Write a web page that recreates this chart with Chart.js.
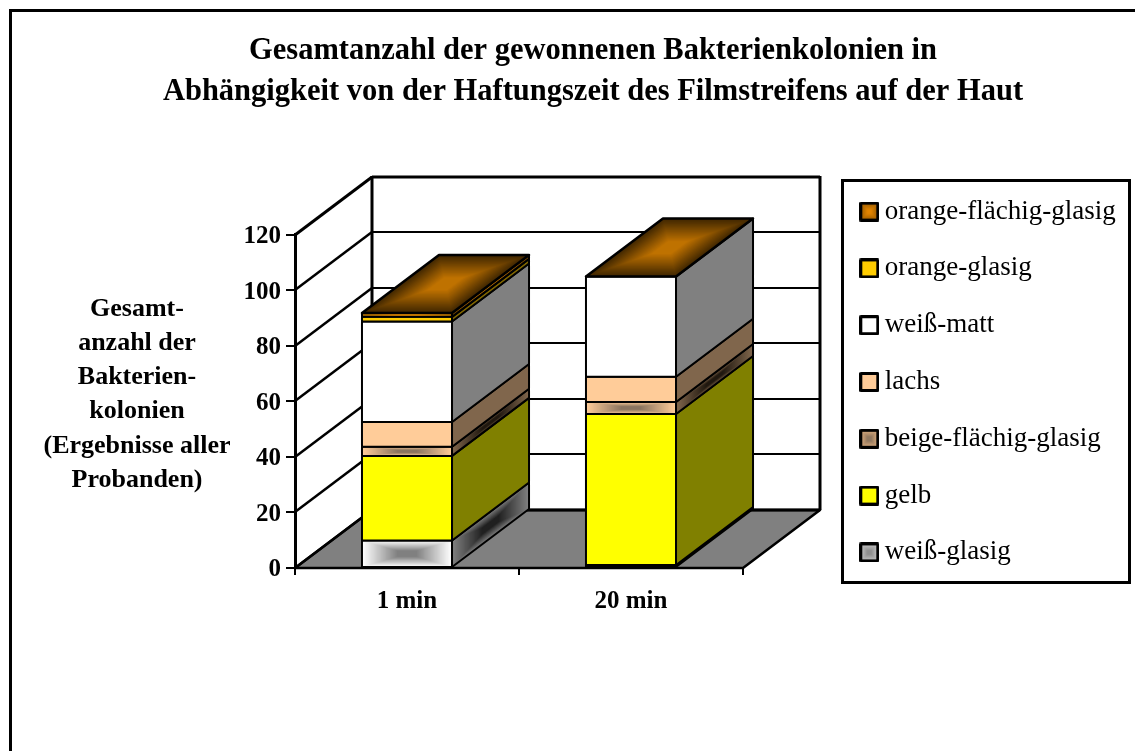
<!DOCTYPE html>
<html><head><meta charset="utf-8">
<script src="https://cdn.jsdelivr.net/npm/chart.js@4"></script>
<style>html,body{margin:0;padding:0;background:#fff;overflow:hidden}canvas{display:block}</style>
</head><body><canvas id="c" width="1135" height="751"></canvas>
<script>
const categories = ['1 min', '20 min'];
const titleLines = ['Gesamtanzahl der gewonnenen Bakterienkolonien in', 'Abhängigkeit von der Haftungszeit des Filmstreifens auf der Haut'];
const axisTitleLines = ['Gesamt-', 'anzahl der', 'Bakterien-', 'kolonien', '(Ergebnisse aller', 'Probanden)'];
const seriesNames = ['weiß-glasig', 'gelb', 'beige-flächig-glasig', 'lachs', 'weiß-matt', 'orange-glasig', 'orange-flächig-glasig'];
const weissGlasig = [9.9, 1.1];
const gelb = [30.5, 54.4];
const beigeFlaechig = [3.3, 4.3];
const lachs = [8.9, 9.1];
const weissMatt = [36.2, 36.1];
const orangeGlasig = [1.7, 0];
const orangeFlaechig = [1.4, 0];
const seriesValues = [weissGlasig, gelb, beigeFlaechig, lachs, weissMatt, orangeGlasig, orangeFlaechig];
// face colours: [edge, centre]; a single colour is flat
const frontColors = [['#FFFFFF', '#808080'], ['#FFFF00'], ['#FFCC99', '#8A7460'], ['#FFCC99'], ['#FFFFFF'], ['#FFCC00'], ['#C07800', '#FF9900']];
const sideColors = [['#808080', '#202020'], ['#808000'], ['#80664C', '#201810'], ['#80664C'], ['#808080'], ['#806600'], ['#804C00', '#BF7200']];
const topColors = ['#3F2600', '#BF7200'];
const legendSwatch = [['#C8C8C8', '#909090'], ['#FFFF00'], ['#E0B080', '#907860'], ['#FFCC99'], ['#FFFFFF'], ['#FFCC00'], ['#9A5C00', '#E08400']];

const DX = 77, DY = 58;
const serif = '"Liberation Serif","Times New Roman",serif';

function lerp(a, b, t) {
  const p = s => [1, 3, 5].map(i => parseInt(s.substr(i, 2), 16));
  const A = p(a), B = p(b);
  return 'rgb(' + A.map((v, i) => Math.round(v + (B[i] - v) * t)).join(',') + ')';
}
function path(ctx, pts) {
  ctx.beginPath();
  pts.forEach((q, i) => i ? ctx.lineTo(q[0], q[1]) : ctx.moveTo(q[0], q[1]));
  ctx.closePath();
}
function face(ctx, pts, cols, lw) {
  if (cols.length === 1) {
    path(ctx, pts); ctx.fillStyle = cols[0]; ctx.fill();
  } else {
    const cx = pts.reduce((s, q) => s + q[0], 0) / 4, cy = pts.reduce((s, q) => s + q[1], 0) / 4;
    const N = 30, stop = 0.22;
    for (let i = 0; i <= N; i++) {
      const t = i / N, k = 1 - t * (1 - stop);
      path(ctx, pts.map(q => [cx + (q[0] - cx) * k, cy + (q[1] - cy) * k]));
      ctx.fillStyle = lerp(cols[0], cols[1], t);
      ctx.fill();
    }
  }
  path(ctx, pts);
  ctx.strokeStyle = '#000'; ctx.lineWidth = lw; ctx.lineJoin = 'round'; ctx.stroke();
}
function line(ctx, x1, y1, x2, y2, w) {
  ctx.beginPath(); ctx.moveTo(x1, y1); ctx.lineTo(x2, y2);
  ctx.strokeStyle = '#000'; ctx.lineWidth = w; ctx.stroke();
}
function swatch(cols) {
  const c = document.createElement('canvas'); c.width = 20; c.height = 20;
  face(c.getContext('2d'), [[1.5, 1.5], [18.5, 1.5], [18.5, 18.5], [1.5, 18.5]], cols, 3);
  return c;
}

const scene3d = {
  id: 'scene3d',
  beforeLayout(chart) {
    const l = chart.legend;
    if (!l._fixedFit) {
      const f = l.fit;
      l.fit = function () { f.call(this); this.width = 392; };
      l._fixedFit = true;
    }
  },
  afterLayout(chart) {
    const l = chart.legend;
    l.left = 837.5; l.right = 1130; l.top = 152; l.bottom = 612;
    chart.titleBlock.left = 51;
  },
  beforeDraw(chart) {
    const ctx = chart.ctx;
    ctx.save();
    ctx.fillStyle = '#fff'; ctx.fillRect(0, 0, chart.width, chart.height);
    ctx.strokeStyle = '#000'; ctx.lineWidth = 3;
    ctx.strokeRect(10.5, 10.5, chart.width + 40, chart.height + 40);
    // legend frame
    ctx.strokeRect(842.5, 180.5, 287, 402);
    ctx.restore();
  },
  beforeDatasetsDraw(chart) {
    const ctx = chart.ctx, a = chart.chartArea, y = chart.scales.y;
    ctx.save();
    // floor
    face(ctx, [[a.left, a.bottom], [a.left + DX, a.bottom - DY], [a.right + DX, a.bottom - DY], [a.right, a.bottom]], ['#808080'], 2.5);
    // grid on side and back wall
    y.ticks.forEach(t => {
      const p = Math.round(y.getPixelForValue(t.value));
      line(ctx, a.left, p, a.left + DX, p - DY, t.value === y.max ? 3 : 2.5);
      line(ctx, a.left + DX, p - DY, a.right + DX, p - DY, t.value === y.max || t.value === 0 ? 3 : 2);
    });
    line(ctx, a.left + DX, a.top - DY - 1, a.left + DX, a.bottom - DY, 3);
    line(ctx, a.right + DX, a.top - DY - 1, a.right + DX, a.bottom - DY, 3);
    // axis title
    ctx.fillStyle = '#000'; ctx.font = 'bold 26px ' + serif; ctx.textAlign = 'center'; ctx.textBaseline = 'middle';
    axisTitleLines.forEach((s, i) => ctx.fillText(s, 137, 309 + i * 34.2));
    ctx.restore();
  },
  afterDatasetsDraw(chart) {
    const ctx = chart.ctx;
    ctx.save();
    categories.forEach((_, c) => {
      let topEl = null;
      chart.data.datasets.forEach((ds, d) => {
        const el = chart.getDatasetMeta(d).data[c];
        const p = el.getProps(['x', 'y', 'base', 'width'], true);
        const l = p.x - p.width / 2, r = p.x + p.width / 2;
        if (ds.data[c] > 0) {
          face(ctx, [[l, p.y], [r, p.y], [r, p.base], [l, p.base]], frontColors[d], 2);
          face(ctx, [[r, p.y], [r + DX, p.y - DY], [r + DX, p.base - DY], [r, p.base]], sideColors[d], 2);
        }
        topEl = p;
      });
      const l = topEl.x - topEl.width / 2, r = topEl.x + topEl.width / 2;
      face(ctx, [[l, topEl.y], [l + DX, topEl.y - DY], [r + DX, topEl.y - DY], [r, topEl.y]], topColors, 2.5);
    });
    ctx.restore();
  }
};

const datasets = seriesNames.map((name, i) => ({
  label: name,
  data: seriesValues[i],
  backgroundColor: frontColors[i][0],
  borderColor: '#000',
  borderWidth: 2,
  borderSkipped: false,
  inflateAmount: 0,
  barPercentage: 0.402,
  categoryPercentage: 1
}));

new Chart(document.getElementById('c'), {
  type: 'bar',
  data: { labels: categories, datasets },
  plugins: [scene3d],
  options: {
    responsive: false,
    animation: false,
    layout: { padding: 0 },
    plugins: {
      title: {
        display: true,
        text: titleLines,
        color: '#000',
        font: { family: serif, size: 30.5, weight: 'bold', lineHeight: 1.344 },
        padding: { top: 31, bottom: 122 }
      },
      legend: {
        position: 'right',
        reverse: true,
        labels: {
          color: '#000',
          font: { family: serif, size: 27 },
          usePointStyle: true,
          pointStyleWidth: 4,
          boxHeight: 20,
          padding: 29.8,
          generateLabels(chart) {
            return Chart.defaults.plugins.legend.labels.generateLabels(chart).map(it => {
              it.pointStyle = swatch(legendSwatch[it.datasetIndex]);
              it.lineWidth = 0;
              return it;
            });
          }
        }
      },
      tooltip: { enabled: false }
    },
    scales: {
      x: {
        stacked: true,
        afterFit(s) { s.height = 183; },
        border: { color: '#000', width: 2 },
        grid: { display: true, drawOnChartArea: false, color: '#000', lineWidth: 2, tickLength: 7, tickWidth: 2, offset: true },
        ticks: { color: '#000', padding: 12, font: { family: serif, size: 25, weight: 'bold' }, maxRotation: 0 }
      },
      y: {
        stacked: true,
        min: 0,
        max: 120,
        afterFit(s) { s.width = 295; },
        border: { color: '#000', width: 3 },
        grid: { display: true, drawOnChartArea: false, color: '#000', lineWidth: 2, tickLength: 9, tickWidth: 2 },
        ticks: { stepSize: 20, color: '#000', padding: 5, labelOffset: 2, font: { family: serif, size: 25, weight: 'bold' } }
      }
    }
  }
});
</script>
</body></html>
